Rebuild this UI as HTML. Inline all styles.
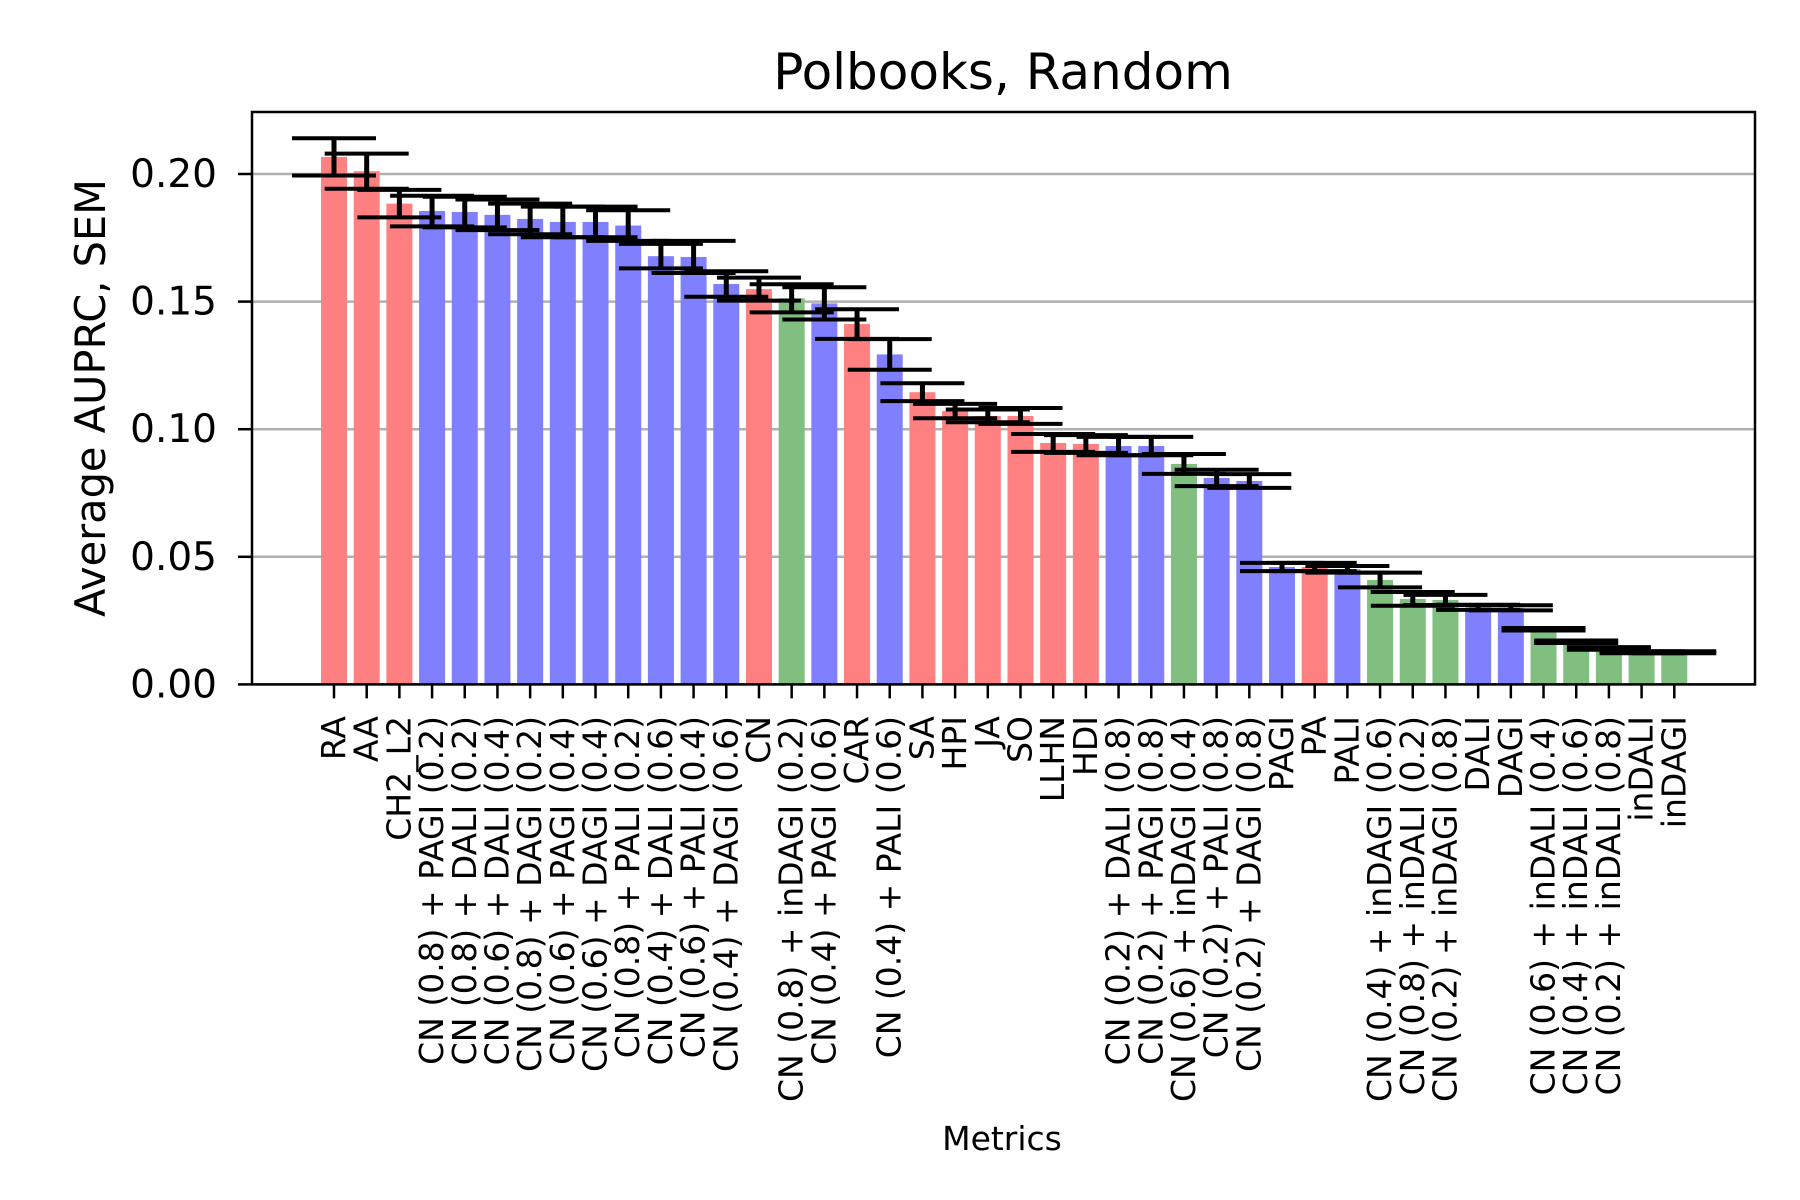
<!DOCTYPE html>
<html><head><meta charset="utf-8"><title>Polbooks, Random</title>
<style>html,body{margin:0;padding:0;background:#fff}svg{display:block;font-family:"DejaVu Sans","Liberation Sans",sans-serif}</style>
</head><body>
<svg id="chart" width="1800" height="1200" viewBox="0 0 1800 1200" xmlns="http://www.w3.org/2000/svg">
<rect x="0" y="0" width="1800" height="1200" fill="#fff"/>
<text x="1003" y="89" font-size="50" text-anchor="middle">Polbooks, Random</text>
<g id="grid"></g><g id="bars"></g><g id="errs"></g><g id="axes"></g>
<text transform="translate(105,398) rotate(-90)" font-size="41.5" text-anchor="middle">Average AUPRC, SEM</text>
<text x="1002" y="1150" font-size="33" text-anchor="middle">Metrics</text>
</svg>
<script>
const categories = ["RA","AA","CH2_L2","CN (0.8) + PAGI (0.2)","CN (0.8) + DALI (0.2)","CN (0.6) + DALI (0.4)","CN (0.8) + DAGI (0.2)","CN (0.6) + PAGI (0.4)","CN (0.6) + DAGI (0.4)","CN (0.8) + PALI (0.2)","CN (0.4) + DALI (0.6)","CN (0.6) + PALI (0.4)","CN (0.4) + DAGI (0.6)","CN","CN (0.8) + inDAGI (0.2)","CN (0.4) + PAGI (0.6)","CAR","CN (0.4) + PALI (0.6)","SA","HPI","JA","SO","LLHN","HDI","CN (0.2) + DALI (0.8)","CN (0.2) + PAGI (0.8)","CN (0.6) + inDAGI (0.4)","CN (0.2) + PALI (0.8)","CN (0.2) + DAGI (0.8)","PAGI","PA","PALI","CN (0.4) + inDAGI (0.6)","CN (0.8) + inDALI (0.2)","CN (0.2) + inDAGI (0.8)","DALI","DAGI","CN (0.6) + inDALI (0.4)","CN (0.4) + inDALI (0.6)","CN (0.2) + inDALI (0.8)","inDALI","inDAGI"];
const values = [0.2067,0.2011,0.1884,0.1855,0.1851,0.1840,0.1824,0.1812,0.1812,0.1798,0.1678,0.1675,0.1569,0.1549,0.1513,0.1493,0.1412,0.1293,0.1145,0.1071,0.1052,0.1052,0.0946,0.0942,0.0934,0.0934,0.0864,0.0809,0.0797,0.0460,0.0460,0.0451,0.0409,0.0335,0.0331,0.0302,0.0300,0.0216,0.0167,0.0141,0.0126,0.0126];
const errors = [0.0073,0.0069,0.0054,0.006,0.006,0.006,0.006,0.006,0.006,0.006,0.0048,0.0063,0.005,0.0045,0.0055,0.0063,0.0058,0.006,0.0035,0.0028,0.0025,0.0031,0.0035,0.0035,0.0036,0.0036,0.0039,0.0032,0.0027,0.0016,0.0016,0.0013,0.0029,0.0027,0.002,0.001,0.001,0.0005,0.0005,0.0005,0.0004,0.0004];
const groups = ["r","r","r","b","b","b","b","b","b","b","b","b","b","r","g","b","r","b","r","r","r","r","r","r","b","b","g","b","b","b","r","b","g","g","g","b","b","g","g","g","g","g"];
const yTicks = [0, 0.05, 0.10, 0.15, 0.20];
const yTickLabels = ["0.00","0.05","0.10","0.15","0.20"];

const NS = "http://www.w3.org/2000/svg";
const L = 252, R = 1755, T = 112, B = 684.4;
const Y0 = 684.4, PXU = 2552;
const X0 = 334, STEP = 32.69, BW = 26, CAP = 42;
const colorMap = {r:"#ff8080", b:"#8080ff", g:"#80bf80"};
function yS(v){ return Y0 - v*PXU; }
function xS(i){ return X0 + i*STEP; }
function mk(tag, attrs, parent){ const e=document.createElementNS(NS,tag); for(const k in attrs) e.setAttribute(k,attrs[k]); parent.appendChild(e); return e; }
const grid=document.getElementById('grid'), bars=document.getElementById('bars'), errs=document.getElementById('errs'), axes=document.getElementById('axes');

yTicks.forEach((t,k)=>{
  const y=yS(t);
  const gl=mk('line',{x1:L,x2:R,y1:y,y2:y,stroke:'#b0b0b0','stroke-width':2.5},grid);
  
  
  const tk=mk('line',{x1:L-14,x2:L,y1:y,y2:y,stroke:'#000','stroke-width':2.5},axes);
  
  
  const tl=mk('text',{x:L-35,y:y+13,'font-size':39,'text-anchor':'end'},axes);
  tl.textContent=yTickLabels[k];
  
  
});

values.forEach((v,i)=>{
  const cx=xS(i), top=yS(v);
  const r=mk('rect',{x:cx-BW/2,y:top,width:BW,height:Y0-top,fill:colorMap[groups[i]]},bars);
  
  
  const e=errors[i], y1=yS(v+e), y2=yS(v-e);
  const g=mk('g',{},errs);
  
  
  mk('line',{x1:cx,x2:cx,y1:y1,y2:y2,stroke:'#000','stroke-width':5},g);
  mk('line',{x1:cx-CAP,x2:cx+CAP,y1:y1,y2:y1,stroke:'#000','stroke-width':4},g);
  mk('line',{x1:cx-CAP,x2:cx+CAP,y1:y2,y2:y2,stroke:'#000','stroke-width':4},g);
  const tk=mk('line',{x1:cx,x2:cx,y1:B,y2:B+14,stroke:'#000','stroke-width':2.5},axes);
  
  
  const tl=mk('text',{transform:'translate('+(cx+11)+',716) rotate(-90)','font-size':33,'text-anchor':'end'},axes);
  tl.textContent=categories[i];
  
  
});
const frame=mk('rect',{x:L,y:T,width:R-L,height:B-T,fill:'none',stroke:'#000','stroke-width':2.5},axes);


</script>
</body></html>
